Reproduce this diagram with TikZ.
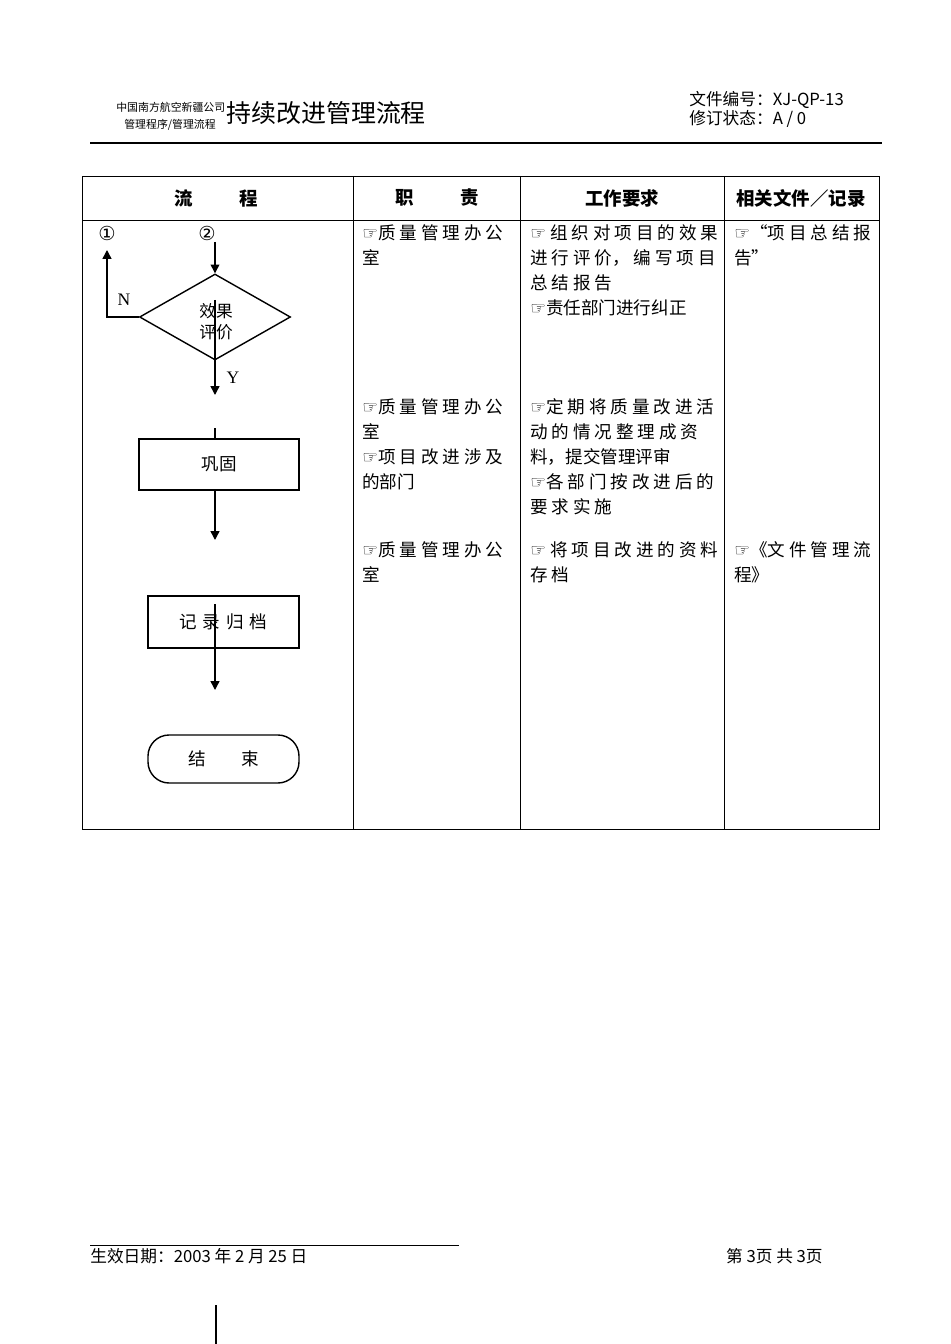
\documentclass[tikz,border=0pt]{standalone}
\usepackage{fontspec}
\setmainfont{Liberation Serif}
\newfontfamily\cjk{Noto Sans CJK SC}
\newfontfamily\sym{DejaVu Sans}
\usetikzlibrary{arrows.meta,shapes.geometric}
\newcommand{\hand}{{\sym\char"261E}}
\tikzset{
  box/.style={draw, thick, minimum width=160*0.02cm, minimum height=51*0.02cm, font=\cjk\fontsize{10}{12}\selectfont},
  cell/.style={anchor=north west, align=left, inner sep=0pt, font=\cjk\fontsize{10}{14.2}\selectfont},
  flow/.style={thick, -{Triangle[length=5pt,width=5pt]}}
}
\begin{document}
\begin{tikzpicture}[x=0.02cm, y=-0.02cm]
            \useasboundingbox (0,0) rectangle (950,1344);
            % header
            \node[anchor=west, inner sep=0pt, font=\cjk\fontsize{6.2}{8}\selectfont] (co) at (116,107) {中国南方航空新疆公司};
            \node[anchor=west, inner sep=0pt, font=\cjk\fontsize{6.2}{8}\selectfont] (prog) at (124,125) {管理程序/管理流程};
            \node[anchor=west, inner sep=0pt, font=\cjk\fontsize{14.2}{16}\selectfont, fill=white] (title) at (226,113) {持续改进管理流程};
            \node[anchor=north west, inner sep=0pt, align=left, font=\cjk\fontsize{9.5}{11}\selectfont] (docno) at (689,91) {文件编号：XJ-QP-13\\修订状态：A / 0};
            \draw[thick] (90,143) -- (882,143);
            % table
            \draw (82,176) rectangle (879,829);
            \draw (82,220) -- (879,220);
            \foreach \x in {353,520,724} \draw (\x,176) -- (\x,829);
            \foreach \x/\t in {216/{流\hspace{2.5em}程},437/{职\hspace{2.5em}责},622/工作要求,801/相关文件／记录}
                \node[font=\cjk\bfseries\fontsize{10.5}{12}\selectfont] at (\x,198) {\t};
            % flow
            \node[font=\sym\fontsize{11}{12}\selectfont] (c1) at (107,233) {①};
            \node[font=\sym\fontsize{11}{12}\selectfont] (c2) at (207,233) {②};
            \node[draw, thick, diamond, aspect=1.75, minimum width=151*0.02cm, minimum height=86*0.02cm, inner sep=0pt] (eval) at (215,317) {};
            \node[align=center, inner sep=0pt, font=\cjk\fontsize{9.5}{12}\selectfont] (evaltxt) at (216,322) {效果\\评价};
            \draw[flow] (215,242) -- (eval.north);
            \coordinate (nc) at (eval.west -| 107,0);
            \draw[flow] (eval.west) -- (nc) -- (107,250);
            \node (n) at (124,300) {N};
            \draw[thick] (215,300) -- (eval.south);
            \draw[flow] (eval.south) -- (215,395);
            \node (y) at (233,378) {Y};
            \node[box] (cons) at (219,464.5) {巩固};
            \draw[thick] (215,428) -- (cons.north -| 215,0);
            \draw[flow] (cons.south -| 215,0) -- (215,540);
            \node[box, minimum width=151*0.02cm, minimum height=52*0.02cm] (arch) at (223.5,622) {记\,\,录\,\,归\,\,档};
            \draw[flow] (215,604) -- (215,690);
            \node[box, rounded corners=12pt, minimum width=151*0.02cm, minimum height=48*0.02cm] (end) at (223.5,759) {结\hspace{2em}束};
            % duties
            \node[cell] (d1) at (362,224) {\hand 质 量 管 理 办 公\\室};
            \node[cell] (d2) at (362,398) {\hand 质 量 管 理 办 公\\室\\\hand 项 目 改 进 涉 及\\的部门};
            \node[cell] (d3) at (362,541) {\hand 质 量 管 理 办 公\\室};
            % requirements
            \node[cell] (r1) at (530,224) {\hand\ 组 织 对 项 目 的 效 果\\进 行 评 价， 编 写 项 目\\总 结 报 告\\\hand 责任部门进行纠正};
            \node[cell] (r2) at (530,398) {\hand 定 期 将 质 量 改 进 活\\动 的 情 况 整 理 成 资\\料，提交管理评审\\\hand 各 部 门 按 改 进 后 的\\要 求 实 施};
            \node[cell] (r3) at (530,541) {\hand\ 将 项 目 改 进 的 资 料\\存 档};
            % records
            \node[cell] (f1) at (734,224) {\hand “项 目 总 结 报\\告”};
            \node[cell] (f3) at (734,541) {\hand 《文 件 管 理 流\\程》};
            % footer
            \draw (90,1245) -- (459,1245);
            \node[anchor=west, inner sep=0pt, font=\cjk\fontsize{9.5}{12}\selectfont] (date) at (90,1256) {生效日期：2003 年 2 月 25 日};
            \node[anchor=east, inner sep=0pt, font=\cjk\fontsize{9.5}{12}\selectfont] (page) at (823,1256) {第 3页 共 3页};
            \draw[thick] (216,1305) -- (216,1344);
\end{tikzpicture}
\end{document}
